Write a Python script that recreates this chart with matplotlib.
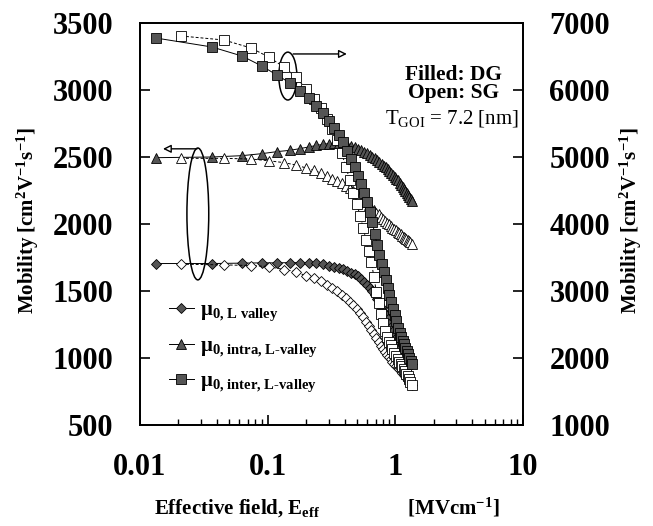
import matplotlib

matplotlib.use("Agg")

import matplotlib.pyplot as plt
from matplotlib.patches import Ellipse
from matplotlib.ticker import LogLocator, NullFormatter

# effective field [MV/cm]; DG = filled symbols, SG = open symbols
E_DG = [0.0133, 0.0366, 0.063, 0.09, 0.118, 0.15,
        0.18, 0.21, 0.24, 0.27, 0.30, 0.33, 0.36, 0.39, 0.42, 0.45,
        0.48, 0.51, 0.54, 0.57, 0.60, 0.63, 0.66, 0.69, 0.72, 0.75,
        0.78, 0.81, 0.84, 0.87, 0.90, 0.93, 0.96, 0.99, 1.02, 1.05,
        1.08, 1.11, 1.14, 1.17, 1.20, 1.23, 1.26, 1.29, 1.32, 1.35]
E_SG = [0.021, 0.0455, 0.074, 0.102, 0.134, 0.167,
        0.20, 0.23, 0.26, 0.29, 0.32, 0.35, 0.38, 0.41, 0.44, 0.47,
        0.50, 0.53, 0.56, 0.59, 0.62, 0.65, 0.68, 0.71, 0.74, 0.77,
        0.80, 0.83, 0.86, 0.89, 0.92, 0.95, 0.98, 1.01, 1.04, 1.07,
        1.10, 1.13, 1.16, 1.19, 1.22, 1.25, 1.28, 1.31, 1.34]

# left axis [cm2/Vs]
mu_L_DG = [1705, 1705, 1708, 1710, 1710, 1712,
           1711, 1709, 1706, 1699, 1690, 1681, 1672, 1663, 1651, 1637,
           1624, 1609, 1591, 1570, 1547, 1525, 1500, 1468, 1437, 1406,
           1374, 1344, 1318, 1288, 1256, 1230, 1203, 1176, 1152, 1129,
           1107, 1086, 1068, 1050, 1032, 1013, 996, 982, 969, 955]
mu_L_SG = [1700, 1695, 1690, 1682, 1660, 1645,
           1612, 1594, 1573, 1546, 1522, 1500, 1473, 1446, 1419, 1392,
           1366, 1334, 1303, 1272, 1241, 1210, 1178, 1147, 1118, 1092,
           1067, 1045, 1024, 1006, 989, 972, 958, 943, 930, 916,
           903, 890, 876, 863, 849, 836, 822, 809, 795]
mu_intra_DG = [2495, 2500, 2510, 2525, 2540, 2550,
               2563, 2575, 2586, 2594, 2600, 2603, 2604, 2599, 2591, 2582,
               2571, 2560, 2549, 2539, 2530, 2517, 2503, 2490, 2476, 2463,
               2449, 2436, 2426, 2412, 2396, 2382, 2368, 2352, 2338, 2325,
               2309, 2294, 2277, 2262, 2246, 2230, 2216, 2202, 2189, 2175]
mu_intra_SG = [2490, 2490, 2485, 2472, 2458, 2440,
               2418, 2400, 2381, 2358, 2339, 2321, 2303, 2285, 2267, 2249,
               2231, 2209, 2186, 2163, 2141, 2119, 2102, 2085, 2072, 2055,
               2037, 2024, 2011, 1997, 1984, 1970, 1961, 1952, 1943, 1933,
               1922, 1913, 1904, 1895, 1888, 1881, 1872, 1863, 1854]
# right axis [cm2/Vs]
mu_inter_DG = [6776, 6642, 6507, 6358, 6224, 6104,
               5988, 5874, 5767, 5655, 5540, 5438, 5332, 5218, 5096, 4970,
               4846, 4718, 4592, 4462, 4330, 4180, 4024, 3856, 3692, 3530,
               3404, 3280, 3159, 3047, 2940, 2833, 2731, 2642, 2546, 2448,
               2376, 2310, 2257, 2203, 2149, 2105, 2057, 2003, 1955, 1910]
mu_inter_SG = [6806, 6746, 6627, 6492, 6343, 6194,
               6015, 5872, 5725, 5573, 5415, 5254, 5057, 4856, 4651, 4468,
               4298, 4119, 3940, 3761, 3594, 3433, 3203, 2992, 2818, 2664,
               2520, 2405, 2307, 2245, 2188, 2134, 2081, 2030, 1985, 1946,
               1910, 1875, 1839, 1803, 1767, 1731, 1687, 1642, 1600]

LEFT_TICKS = [500, 1000, 1500, 2000, 2500, 3000, 3500]
RIGHT_TICKS = [1000, 2000, 3000, 4000, 5000, 6000, 7000]
X_TICKS = [0.01, 0.1, 1, 10]
X_LABELS = ["0.01", "0.1", "1", "10"]
LEGEND_LABELS = [r"μ$_{\text{0, L valley}}$",
                 r"μ$_{\text{0, intra, L-valley}}$",
                 r"μ$_{\text{0, inter, L-valley}}$"]
YLABEL = r"Mobility [cm$^{2}$V$^{-1}$s$^{-1}$]"
XLABEL = r"Effective field, E$_{\text{eff}}$" + " " * 17 + r"[MVcm$^{-1}$]"

FILL = "#555555"

plt.rcParams.update({
    "font.family": ["Liberation Serif", "DejaVu Serif"],
    "font.weight": "bold",
    "mathtext.fontset": "custom",
    "mathtext.rm": "Liberation Serif:bold",
    "mathtext.it": "Liberation Serif:italic:bold",
    "mathtext.bf": "Liberation Serif:bold",
    "axes.linewidth": 1.3,
})

fig = plt.figure(figsize=(6.53, 5.26), dpi=100)
ax = fig.add_axes([140 / 653, 101 / 526, 383 / 653, 402 / 526])
ax2 = ax.twinx()


def series(axis, x, y, marker, size, filled):
    return axis.plot(x, y, "-" if filled else "--", color="black", lw=0.7,
                     dashes=(3, 2) if not filled else (None, None),
                     marker=marker, ms=size, mfc=FILL if filled else "white",
                     mec="black", mew=0.6)[0]


hD = series(ax, E_DG, mu_L_DG, "D", 5.5, True)
series(ax, E_SG, mu_L_SG, "D", 5.5, False)
hT = series(ax, E_DG, mu_intra_DG, "^", 7, True)
series(ax, E_SG, mu_intra_SG, "^", 7, False)
series(ax2, E_SG, mu_inter_SG, "s", 6.5, False)
hS = series(ax2, E_DG, mu_inter_DG, "s", 6.5, True)

ax.set_xscale("log")
ax.set_xlim(0.01, 10)
ax.set_ylim(500, 3500)
ax2.set_ylim(1000, 7000)
ax.set_xticks(X_TICKS)
ax.set_xticklabels(X_LABELS)
ax.xaxis.set_minor_locator(LogLocator(base=10, subs=range(2, 10)))
ax.xaxis.set_minor_formatter(NullFormatter())
ax.set_yticks(LEFT_TICKS)
ax2.set_yticks(RIGHT_TICKS)

ax.tick_params(which="major", direction="in", length=7, width=1.2, labelsize=22,
               top=False, right=False)
ax.tick_params(axis="x", which="major", pad=20)
ax.tick_params(axis="y", pad=19)
ax.tick_params(axis="x", which="minor", direction="in", length=4, width=1, top=False)
ax2.tick_params(axis="y", direction="in", length=7, width=1.2, labelsize=22, pad=19)

fig.text(28 / 653, 1 - 221 / 526, YLABEL, rotation=90, ha="center", va="center",
         fontsize=15)
fig.text(631 / 653, 1 - 221 / 526, YLABEL, rotation=90, ha="center", va="center",
         fontsize=15)
fig.text(327 / 653, 1 - 508 / 526, XLABEL, ha="center", va="center", fontsize=15)

ax2.text(0.818, 0.848, "Filled: DG\nOpen: SG", transform=ax2.transAxes,
         ha="center", va="center", fontsize=15.5, linespacing=0.85)
ax2.text(0.815, 0.762, r"T$_{\mathregular{GOI}}$ = 7.2 [nm]", transform=ax2.transAxes,
         ha="center", va="center", fontsize=15, fontweight="normal")

# ellipses + arrows telling which axis each group belongs to
ax2.add_patch(Ellipse((0.386, 0.868), 0.047, 0.119, transform=ax2.transAxes,
                      fill=False, ec="black", lw=1.1))
ax2.add_patch(Ellipse((0.151, 0.525), 0.057, 0.328, transform=ax2.transAxes,
                      fill=False, ec="black", lw=1.1))
ax2.annotate("", xy=(0.540, 0.923), xytext=(0.400, 0.923), xycoords="axes fraction",
             arrowprops=dict(arrowstyle="-|>", fc="white", ec="black", lw=1.0,
                             mutation_scale=12, shrinkA=0, shrinkB=0))
ax2.annotate("", xy=(0.060, 0.687), xytext=(0.149, 0.687), xycoords="axes fraction",
             arrowprops=dict(arrowstyle="-|>", fc="white", ec="black", lw=1.0,
                             mutation_scale=12, shrinkA=0, shrinkB=0))

ax2.legend(handles=[hD, hT, hS], labels=LEGEND_LABELS, loc="center left",
           bbox_to_anchor=(0.075, 0.193), frameon=False, fontsize=15,
           handlelength=1.2, handletextpad=0.3, labelspacing=0.6,
           borderpad=0, borderaxespad=0)

fig.savefig("out.png", dpi=100)
